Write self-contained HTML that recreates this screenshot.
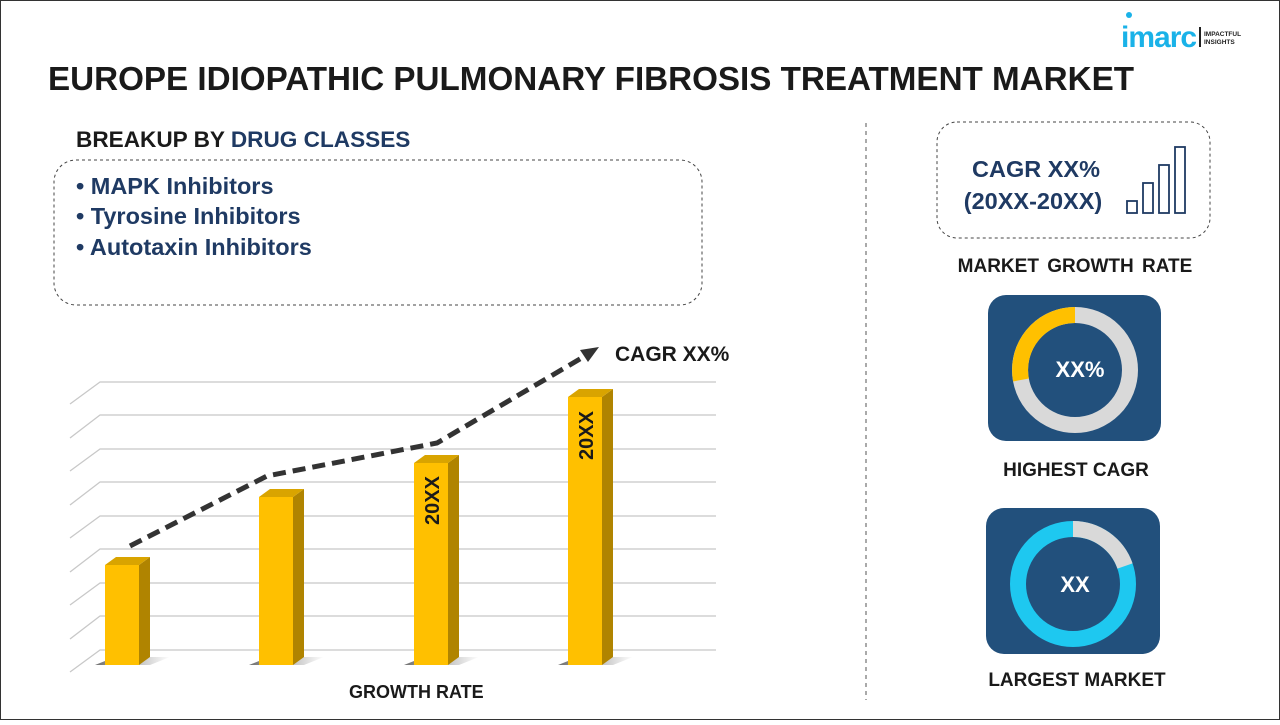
<!DOCTYPE html>
<html><head><meta charset="utf-8"><style>
body{margin:0;width:1280px;height:720px;overflow:hidden;background:#fff;font-family:"Liberation Sans",sans-serif}
</style></head><body>
<svg width="1280" height="720" viewBox="0 0 1280 720" xmlns="http://www.w3.org/2000/svg" font-family="Liberation Sans, sans-serif">
<rect x="0.5" y="0.5" width="1279" height="719" fill="#fff" stroke="#333" stroke-width="1"/>
<circle cx="1129" cy="15" r="3" fill="#1ab2e8"/>
<text x="1121" y="47" font-size="30" font-weight="bold" fill="#1ab2e8" letter-spacing="-1">imarc</text>
<rect x="1199" y="27" width="2" height="20" fill="#222"/>
<text x="1204" y="36" font-size="6.5" font-weight="bold" fill="#222">IMPACTFUL</text>
<text x="1204" y="44" font-size="6.5" font-weight="bold" fill="#222">INSIGHTS</text>
<text x="48" y="90" font-size="33.2" font-weight="bold" fill="#1a1a1a">EUROPE IDIOPATHIC PULMONARY FIBROSIS TREATMENT MARKET</text>
<text x="76" y="147" font-size="22.6" font-weight="bold" fill="#1a1a1a">BREAKUP BY <tspan fill="#1f3a63">DRUG CLASSES</tspan></text>
<rect x="54" y="160" width="648" height="145" rx="22" fill="none" stroke="#444" stroke-dasharray="3,3"/>
<g font-size="23.5" font-weight="bold" fill="#1f3a63">
<text x="76" y="194">• MAPK Inhibitors</text>
<text x="76" y="224">• Tyrosine Inhibitors</text>
<text x="76" y="255">• Autotaxin Inhibitors</text>
</g>
<line x1="866" y1="123" x2="866" y2="700" stroke="#555" stroke-dasharray="4,4"/>
<g stroke="#c8c8c8" stroke-width="1.3" fill="none">
<path d="M70 404L100 382H716M70 438L100 415H716M70 471L100 449H716M70 505L100 482H716M70 538L100 516H716M70 572L100 549H716M70 605L100 583H716M70 639L100 616H716M70 672L100 650H716"/>
</g>
<defs><linearGradient id="sh" x1="0" x2="1"><stop offset="0" stop-color="#333" stop-opacity=".7"/><stop offset="1" stop-color="#333" stop-opacity="0"/></linearGradient></defs>
<g>
<path d="M95 665L150 665L170 657L115 657Z" fill="url(#sh)"/>
<rect x="105" y="565" width="34" height="100" fill="#ffc000"/><path d="M139 565L150 557V657L139 665Z" fill="#b08400"/><path d="M105 565L116 557H150L139 565Z" fill="#d9a400"/>
<path d="M249 665L304 665L324 657L269 657Z" fill="url(#sh)"/>
<rect x="259" y="497" width="34" height="168" fill="#ffc000"/><path d="M293 497L304 489V657L293 665Z" fill="#b08400"/><path d="M259 497L270 489H304L293 497Z" fill="#d9a400"/>
<path d="M404 665L459 665L479 657L424 657Z" fill="url(#sh)"/>
<rect x="414" y="463" width="34" height="202" fill="#ffc000"/><path d="M448 463L459 455V657L448 665Z" fill="#b08400"/><path d="M414 463L425 455H459L448 463Z" fill="#d9a400"/>
<path d="M558 665L613 665L633 657L578 657Z" fill="url(#sh)"/>
<rect x="568" y="397" width="34" height="268" fill="#ffc000"/><path d="M602 397L613 389V657L602 665Z" fill="#b08400"/><path d="M568 397L579 389H613L602 397Z" fill="#d9a400"/>
</g>
<text transform="translate(439,525) rotate(-90)" font-size="20" font-weight="bold" fill="#1a1a1a">20XX</text>
<text transform="translate(593,460) rotate(-90)" font-size="20" font-weight="bold" fill="#1a1a1a">20XX</text>
<path d="M130 546L267 476L437 443L585 356" fill="none" stroke="#333" stroke-width="5" stroke-dasharray="13,7"/>
<path d="M599 347L580 350L588 362Z" fill="#333"/>
<text x="615" y="361" font-size="21" font-weight="bold" fill="#1a1a1a">CAGR XX%</text>
<text x="349" y="698" font-size="18" font-weight="bold" fill="#1a1a1a">GROWTH RATE</text>
<rect x="937" y="122" width="273" height="116" rx="20" fill="none" stroke="#444" stroke-dasharray="3,3"/>
<text x="1036" y="177" font-size="23.5" font-weight="bold" fill="#1f3a63" text-anchor="middle">CAGR XX%</text>
<text x="1033" y="209" font-size="23.5" font-weight="bold" fill="#1f3a63" text-anchor="middle">(20XX-20XX)</text>
<g fill="none" stroke="#1f3a63" stroke-width="1.8">
<rect x="1127" y="201" width="10" height="12"/><rect x="1143" y="183" width="10" height="30"/><rect x="1159" y="165" width="10" height="48"/><rect x="1175" y="147" width="10" height="66"/>
</g>
<text x="1075" y="272" font-size="19" font-weight="bold" fill="#1a1a1a" text-anchor="middle" word-spacing="3">MARKET GROWTH RATE</text>
<rect x="988" y="295" width="173" height="146" rx="18" fill="#22507c"/>
<circle cx="1075" cy="370" r="55" fill="none" stroke="#d9d9d9" stroke-width="16"/>
<path d="M1075 315 A55 55 0 0 0 1021 380" fill="none" stroke="#ffc000" stroke-width="16"/>
<text x="1080" y="377" font-size="22" font-weight="bold" fill="#fff" text-anchor="middle">XX%</text>
<text x="1076" y="476" font-size="19" font-weight="bold" fill="#1a1a1a" text-anchor="middle">HIGHEST CAGR</text>
<rect x="986" y="508" width="174" height="146" rx="18" fill="#22507c"/>
<circle cx="1073" cy="584" r="55" fill="none" stroke="#1ec8f0" stroke-width="16"/>
<path d="M1073 529 A55 55 0 0 1 1125 566" fill="none" stroke="#d9d9d9" stroke-width="16"/>
<text x="1075" y="592" font-size="22" font-weight="bold" fill="#fff" text-anchor="middle">XX</text>
<text x="1077" y="686" font-size="19" font-weight="bold" fill="#1a1a1a" text-anchor="middle">LARGEST MARKET</text>
</svg>
</body></html>
